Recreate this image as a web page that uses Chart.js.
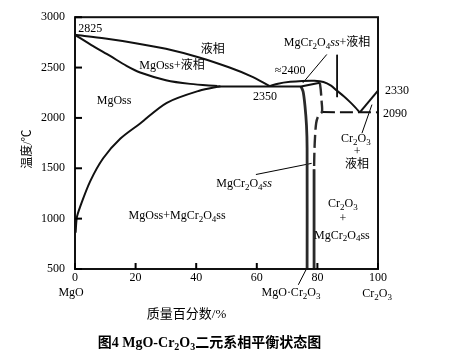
<!DOCTYPE html>
<html><head><meta charset="utf-8">
<script src="https://cdn.jsdelivr.net/npm/chart.js@4/dist/chart.umd.min.js"></script>
<style>html,body{margin:0;padding:0;background:#fff}</style>
</head><body>
<canvas id="c" width="451" height="363"></canvas>
<script>
// ---- axis ticks ----
const xTicks = [0, 20, 40, 60, 80, 100];
const yTicks = [500, 1000, 1500, 2000, 2500, 3000];

// ---- phase boundaries: [wt% Cr2O3, temperature °C] ----
const liquidusMgO    = [[0,2825],[10,2788],[20,2742],[30,2686],[41,2600],[51,2500],[58,2415],[64.3,2316]];
const solidusMgO     = [[0,2825],[6,2713],[11.6,2615],[17,2517],[21.5,2451],[30,2375],[38,2338],[47,2316]];
const solvusMgO      = [[0.2,860],[0.6,1010],[1.6,1110],[5,1370],[9.3,1600],[15,1795],[21.5,1945],[30.3,2150],[41,2270],[48,2314]];
const eutecticLine   = [[47,2312],[74.6,2312]];
const liquidusSpinel = [[64.3,2316],[67,2340],[71,2358],[75,2367],[79,2369],[82,2357],[84.5,2320],[86.4,2272],[88.7,2215],[90.8,2157],[92.5,2105],[94,2055]];
const liquidusCr     = [[94,2055],[100,2270]];
const solidusSpinel  = [[74.6,2312],[80.8,2350]];
const spinelLeft     = [[74.6,2312],[75.3,2260],[75.9,2120],[76.4,1925],[76.6,1700],[76.6,500]];
const spinelRightDash= [[80.8,2350],[81.1,2280],[81.4,2160],[81.5,2060],[80.3,2020],[79.6,1950],[79.2,1800],[79.0,1650],[78.9,1490]];
const spinelRightSolid=[[78.9,1490],[78.9,500]];
const eutecticCr     = [[81.5,2058],[100,2055]];

// ---- leader lines ----
const leaderLiquid   = [[83.1,2630],[75.2,2348]];
const markerLiquid   = [[86.5,2627],[86.5,2206]];
const leaderSpinel   = [[59.7,1438],[78.1,1549]];
const leaderCrLiq    = [[94.7,1848],[98.0,2132]];
const leaderCompound = [[73.7,343],[76.2,490]];

// ---- labels: [x, T, text]  ("_" = subscript next char, {..} = italic) ----
const labels = [
  [5.0, 2882, '2825'],
  [45.5, 2676, '液相'],
  [32.0, 2520, 'MgOss+液相'],
  [12.9, 2167, 'MgOss'],
  [71.0, 2471, '≈2400'],
  [83.2, 2745, 'MgCr_2O_4{ss}+液相'],
  [62.7, 2206, '2350'],
  [106.3, 2265, '2330'],
  [105.6, 2039, '2090'],
  [92.7, 1794, 'Cr_2O_3'],
  [93.1, 1667, '+'],
  [93.1, 1539, '液相'],
  [55.8, 1343, 'MgCr_2O_4{ss}'],
  [33.7, 1029, 'MgOss+MgCr_2O_4ss'],
  [88.4, 1147, 'Cr_2O_3'],
  [88.4, 1000, '+'],
  [88.1, 833, 'MgCr_2O_4ss'],
  [-1.3, 265, 'MgO'],
  [71.3, 265, 'MgO·Cr_2O_3'],
  [99.7, 255, 'Cr_2O_3']
];
const xTitle = '质量百分数/%';
const yTitle = '温度/℃';
const caption = '图4 MgO-Cr_2O_3二元系相平衡状态图';

const FAM = '"Liberation Serif","Noto Sans CJK SC",serif';
function drawRich(ctx, str, cx, cy, size, bold) {
  const segs = []; let i = 0, italic = false;
  while (i < str.length) {
    const ch = str[i];
    if (ch === '_') { segs.push({t: str[i+1], sub: true, it: italic}); i += 2; continue; }
    if (ch === '{') { italic = true; i++; continue; }
    if (ch === '}') { italic = false; i++; continue; }
    const last = segs[segs.length-1];
    if (last && !last.sub && last.it === italic) last.t += ch; else segs.push({t: ch, sub: false, it: italic});
    i++;
  }
  const font = s => `${s.it?'italic ':''}${bold?'bold ':''}${s.sub?Math.round(size*0.72):size}px ${FAM}`;
  let w = 0;
  segs.forEach(s => { ctx.font = font(s); s.w = ctx.measureText(s.t).width; w += s.w; });
  let x = cx - w/2;
  ctx.textBaseline = 'middle'; ctx.textAlign = 'left'; ctx.fillStyle = '#000';
  segs.forEach(s => { ctx.font = font(s); ctx.fillText(s.t, x, cy + (s.sub ? size*0.3 : 0)); x += s.w; });
}

const pts = a => a.map(([x,y]) => ({x, y}));
function line(data, o) {
  return Object.assign({type:'scatter', data: pts(data), showLine: true, borderColor: '#111', borderWidth: 2,
    pointRadius: 0, tension: 0.3, fill: false, clip: false}, o || {});
}
const thin = {borderWidth: 1, tension: 0, borderColor: '#000'};

const datasets = [
  line(liquidusMgO),
  line(solidusMgO),
  line(solvusMgO),
  line(eutecticLine, {tension: 0}),
  line(liquidusSpinel),
  line(liquidusCr, {tension: 0}),
  line(solidusSpinel, {tension: 0}),
  line(spinelLeft, {borderWidth: 2.8, borderColor: '#2a2a2a'}),
  line(spinelLeft, {borderWidth: 0.8, borderColor: '#b0b0b0'}),
  line(spinelRightDash, {borderWidth: 2.4, borderColor: '#2a2a2a', borderDash: [13, 5]}),
  line(spinelRightSolid, {borderWidth: 2.8, borderColor: '#2a2a2a', tension: 0}),
  line(spinelRightSolid, {borderWidth: 0.8, borderColor: '#b0b0b0', tension: 0}),
  line(eutecticCr, {borderDash: [13, 5], tension: 0}),
  line(leaderLiquid, thin),
  line(markerLiquid, thin),
  line(leaderSpinel, thin),
  line(leaderCrLiq, thin),
  line(leaderCompound, thin)
];

const decor = {
  id: 'decor',
  afterDatasetsDraw(chart) {
    const {ctx, chartArea: a, scales: {x, y}} = chart;
    ctx.save();
    // frame
    ctx.strokeStyle = '#111'; ctx.lineWidth = 2;
    ctx.strokeRect(a.left, a.top, a.right - a.left, a.bottom - a.top);
    // inside tick marks
    ctx.lineWidth = 2; ctx.strokeStyle = '#000';
    yTicks.forEach(v => { const py = y.getPixelForValue(v); ctx.beginPath(); ctx.moveTo(a.left, py); ctx.lineTo(a.left + 7, py); ctx.stroke(); });
    xTicks.forEach(v => { const px = x.getPixelForValue(v); ctx.beginPath(); ctx.moveTo(px, a.bottom); ctx.lineTo(px, a.bottom - 6); ctx.stroke(); });
    // labels
    labels.forEach(([vx, vy, t]) => drawRich(ctx, t, x.getPixelForValue(vx), y.getPixelForValue(vy), 12, false));
    drawRich(ctx, xTitle, (a.left + a.right)/2 - 40, a.bottom + 46, 13, false);
    drawRich(ctx, caption, (a.left + a.right)/2 - 17, a.bottom + 74, 14, true);
    ctx.translate(a.left - 47, (a.top + a.bottom)/2 + 6);
    ctx.rotate(-Math.PI/2);
    drawRich(ctx, yTitle, 0, 0, 12, false);
    ctx.restore();
  }
};

new Chart(document.getElementById('c'), {
  data: {datasets},
  options: {
    responsive: false, animation: false, devicePixelRatio: 1,
    layout: {padding: {left: 0, top: 14, right: 73, bottom: 0}},
    plugins: {legend: {display: false}, tooltip: {enabled: false}},
    scales: {
      x: {type: 'linear', min: 0, max: 100,
        afterBuildTicks: s => { s.ticks = xTicks.map(v => ({value: v})); },
        afterFit: s => { s.height = 94; },
        grid: {display: false, drawTicks: false}, border: {display: false},
        ticks: {padding: 2, color: '#000', font: {family: FAM, size: 12}, callback: v => String(v)}},
      y: {type: 'linear', min: 500, max: 3000,
        afterBuildTicks: s => { s.ticks = yTicks.map(v => ({value: v})); },
        afterFit: s => { s.width = 75; },
        grid: {display: false, drawTicks: false}, border: {display: false},
        ticks: {padding: 10, color: '#000', font: {family: FAM, size: 12}, callback: v => String(v)}}
    }
  },
  plugins: [decor]
});
</script>
</body></html>
